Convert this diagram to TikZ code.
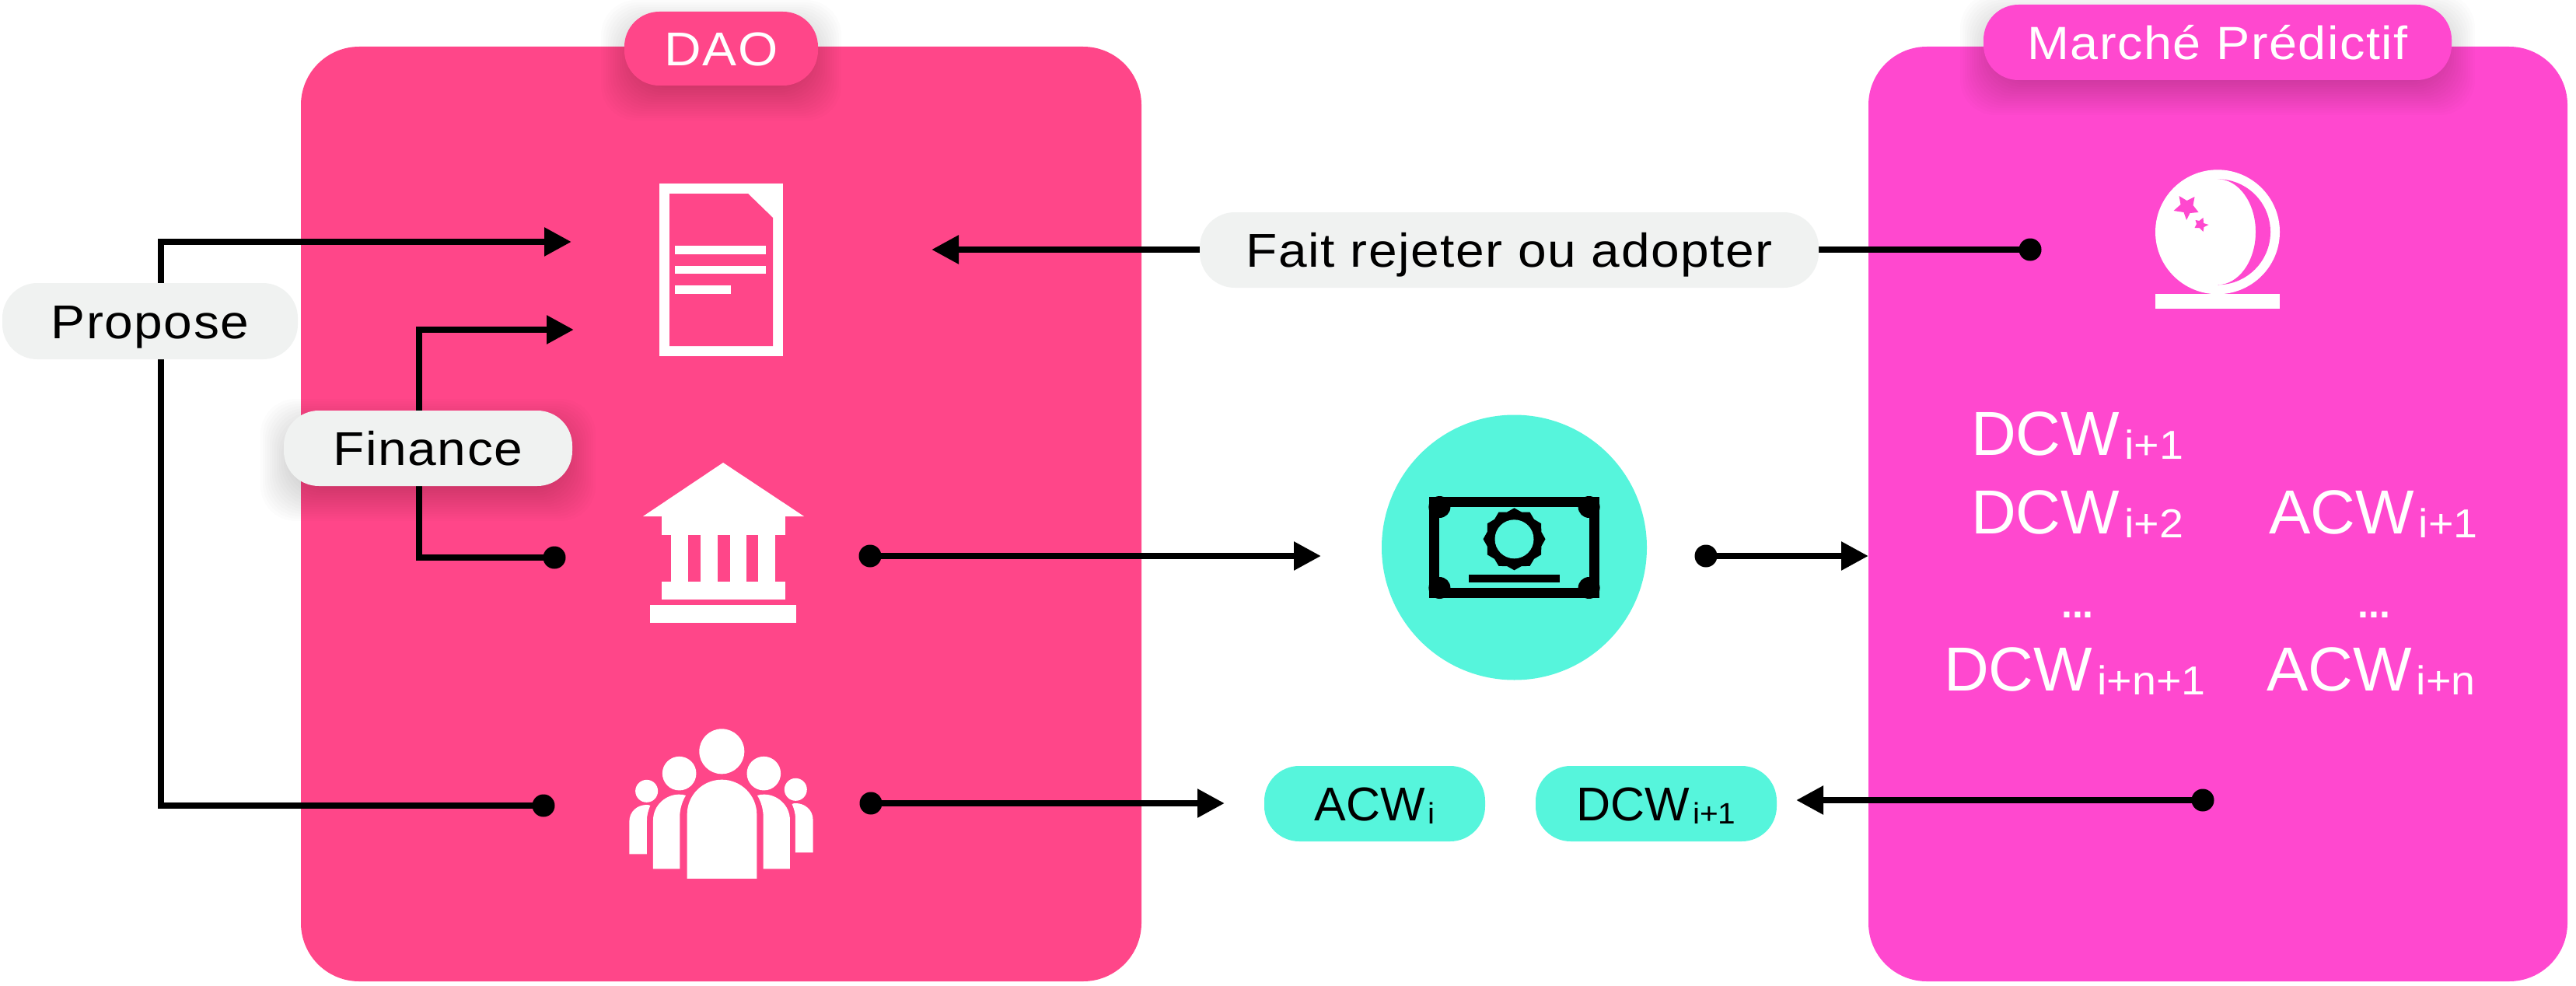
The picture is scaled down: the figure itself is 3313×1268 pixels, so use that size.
\documentclass[tikz,border=0pt]{standalone}
\usepackage{fontspec}
\setmainfont{Liberation Sans}
\newfontfamily\lblfont[FakeStretch=1.08,LetterSpace=2.5]{Liberation Sans}
\newfontfamily\subfont[FakeStretch=1.07]{Liberation Sans}
\usetikzlibrary{arrows.meta}
\definecolor{daopink}{HTML}{FF4689}
\definecolor{mktpink}{HTML}{FF48CF}
\definecolor{teal1}{HTML}{56F5DC}
\definecolor{pillgrey}{HTML}{F0F2F1}
\newcommand{\cwlabel}[4]{#1\kern #4pt\raisebox{-.065em}{\subfont\fontsize{#3}{#3}\selectfont #2}}
\newcommand{\bigcw}[2]{\fontsize{80}{90}\selectfont\cwlabel{#1}{#2}{52}{6}}
\newcommand{\smallcw}[2]{\fontsize{61}{70}\selectfont\cwlabel{#1}{#2}{38}{4}}
\newcommand{\softshadow}[4]{%
  \foreach \d in {30,27,...,-15}{%
    \fill[black,opacity=.011,rounded corners=45pt] ({#1-\d},{#2-\d+15}) rectangle ({#3+\d},{#4+\d+15});
  }}
\tikzset{
  panel/.style={rectangle,rounded corners=75pt,inner sep=0pt},
  pill/.style={rectangle,rounded corners=45pt,inner sep=0pt,text height=44pt,text depth=0pt,align=center},
  lbl/.style={pill,fill=pillgrey,text=black,font=\lblfont\fontsize{61}{70}\selectfont},
  tealpill/.style={pill,fill=teal1,text=black},
  dotnode/.style={circle,fill=black,inner sep=0pt,minimum size=29pt},
  conn/.style={line width=8.5pt,draw=black,line join=miter},
  arr/.style={conn,-{Triangle[length=35pt,width=35pt]}},
  bigtxt/.style={anchor=base west,inner sep=0pt,text=white},
}
\begin{document}
\begin{tikzpicture}[x=1pt,y=-1pt]
\useasboundingbox (0,0) rectangle (3313,1268);
\fill[white] (0,0) rectangle (3313,1268);

% panels
\node[panel,fill=daopink,minimum width=1081pt,minimum height=1202pt] (dao) at (927.5,661) {};
\node[panel,fill=mktpink,minimum width=899pt,minimum height=1202pt] (mkt) at (2852.5,661) {};

% money circle
\node[circle,fill=teal1,inner sep=0pt,minimum size=341pt] (money) at (1947.5,704) {};

% anchors
\coordinate (docA) at (735,311);
\coordinate (docB) at (738,424);
\coordinate (docC) at (1198,321);
\coordinate (moneyIn) at (1699,715);
\coordinate (mktIn) at (2403,715);
\coordinate (acwIn) at (1575,1033);
\coordinate (dcwIn) at (2310,1029);
\coordinate (pa) at (207,1036);
\coordinate (pb) at (207,311);
\coordinate (fa) at (539,717);
\coordinate (fb) at (539,424);

% dots
\node[dotnode] (dPropose) at (699,1036) {};
\node[dotnode] (dFinance) at (713,717) {};
\node[dotnode] (dBank) at (1119,715) {};
\node[dotnode] (dMoney) at (2194,715) {};
\node[dotnode] (dPeople) at (1120,1033) {};
\node[dotnode] (dBall) at (2611,321) {};
\node[dotnode] (dMkt) at (2833,1029) {};

% connectors
\draw[arr] (dPropose.center) -- (pa) -- (pb) -- (docA);
\draw[arr] (dFinance.center) -- (fa) -- (fb) -- (docB);
\draw[arr] (dBall.center) -- (docC);
\draw[arr] (dBank.center) -- (moneyIn);
\draw[arr] (dMoney.center) -- (mktIn);
\draw[arr] (dPeople.center) -- (acwIn);
\draw[arr] (dMkt.center) -- (dcwIn);

% pills
\softshadow{803}{15}{1052}{110}
\softshadow{2551}{6}{3153}{103}
\softshadow{365}{528}{736}{625}
\node[pill,fill=daopink,text=white,font=\lblfont\fontsize{61}{70}\selectfont,minimum width=249pt,minimum height=95pt] (daoLabel) at (927.5,62.5) {DAO};
\node[pill,fill=mktpink,text=white,font=\lblfont\fontsize{60}{70}\selectfont,minimum width=602pt,minimum height=97pt] (mktLabel) at (2852,54.5) {Marché Prédictif};
\node[lbl,minimum width=380pt,minimum height=98pt] (propose) at (193,413) {Propose};
\node[lbl,minimum width=371pt,minimum height=97pt] (finance) at (550.5,576.5) {Finance};
\node[lbl,minimum width=796pt,minimum height=97pt] (fait) at (1941,321.5) {Fait rejeter ou adopter};
\node[tealpill,minimum width=284pt,minimum height=97pt] (acw) at (1768,1033.5) {\smallcw{ACW}{i}};
\node[tealpill,minimum width=310pt,minimum height=97pt] (dcw) at (2130,1033.5) {\smallcw{DCW}{i+1}};

% market texts
\node[bigtxt] (t1) at (2535,585) {\bigcw{DCW}{i+1}};
\node[bigtxt] (t2) at (2535,686) {\bigcw{DCW}{i+2}};
\node[bigtxt] (t3) at (2918,686) {\bigcw{ACW}{i+1}};
\node[bigtxt] (t4) at (2500,888) {\bigcw{DCW}{i+n+1}};
\node[bigtxt] (t5) at (2915,888) {\bigcw{ACW}{i+n}};
\node[anchor=base,inner sep=0pt,text=white,font=\bfseries\fontsize{50}{60}\selectfont] (e1) at (2672,794) {...};
\node[anchor=base,inner sep=0pt,text=white,font=\bfseries\fontsize{50}{60}\selectfont] (e2) at (3053,794) {...};

% document icon
\fill[white] (848,236) rectangle (1007,458);
\fill[daopink] (861,249) -- (962,249) -- (994,280) -- (994,445) -- (861,445) -- cycle;
\fill[white] (868,316) rectangle (985,327);
\fill[white] (868,342) rectangle (985,352);
\fill[white] (868,367) rectangle (940,378);

% bank icon
\fill[white] (930,595) -- (1034,664) -- (827,664) -- cycle;
\fill[white] (851,664) rectangle (1010,688);
\fill[white] (863,688) rectangle (884.5,748);
\fill[white] (900.5,688) rectangle (923,748);
\fill[white] (939,688) rectangle (959.5,748);
\fill[white] (975,688) rectangle (997,748);
\fill[white] (851,748) rectangle (1010,771);
\fill[white] (835.5,778) rectangle (1024,801);

% people icon
\begin{scope}[shift={(700,880)},x=0.3333pt,y=-0.3333pt]
\fill[white] (685,259) circle (29pt);
\fill[white] (521,344) circle (21.8pt);
\fill[white] (847,344) circle (21.8pt);
\fill[white] (395,412) circle (14.5pt);
\fill[white] (970,406) circle (14.5pt);
\fill[white] (551,750) -- (551,502) .. controls (551,428) and (611,368) .. (685,368) .. controls (759,368) and (820,428) .. (820,502) -- (820,750) -- cycle;
\fill[white] (420,712) -- (420,525) .. controls (420,465) and (470,425) .. (520,425) .. controls (530,425) and (538,426) .. (546,429) .. controls (530,455) and (523,485) .. (523,510) -- (523,712) -- cycle;
\fill[white] (948,712) -- (948,525) .. controls (948,465) and (898,425) .. (848,425) .. controls (838,425) and (830,426) .. (822,429) .. controls (838,455) and (845,485) .. (845,510) -- (845,712) -- cycle;
\fill[white] (328,655) -- (328,530) .. controls (328,490) and (360,465) .. (395,465) .. controls (400,465) and (405,466) .. (409,468) .. controls (400,490) and (396,505) .. (396,525) -- (396,655) -- cycle;
\fill[white] (1037,649) -- (1037,524) .. controls (1037,484) and (1005,459) .. (970,459) .. controls (965,459) and (960,460) .. (956,462) .. controls (965,484) and (969,499) .. (969,519) -- (969,649) -- cycle;
\end{scope}

% money icon
\fill[black] (1838,638.7) rectangle (2057,769.3);
\fill[teal1] (1851.4,652) rectangle (2043.6,756);
\fill[black] (1851.4,652) circle (14pt);
\fill[black] (2043.6,652) circle (14pt);
\fill[black] (1851.4,756) circle (14pt);
\fill[black] (2043.6,756) circle (14pt);
\fill[black] (1987.5,693.3) \foreach \a in {15,45,...,345}{ -- ({1947.5+36*cos(\a)},{693.3+36*sin(\a)}) -- ({1947.5+40*cos(\a+15)},{693.3+40*sin(\a+15)}) } -- cycle;
\fill[teal1] (1947.5,693.3) circle (25pt);
\fill[black] (1889,738.7) rectangle (2006,749.3);

% crystal ball icon
\begin{scope}[shift={(-4.5,0)}]
\fill[white] (2856.5,298.3) circle (80pt);
\fill[mktpink] (2856.5,230.3) .. controls (2894.1,230.3) and (2924.5,260.7) .. (2924.5,298.3) .. controls (2924.5,335.9) and (2894.1,366.3) .. (2856.5,366.3) .. controls (2883.6,366.3) and (2905.5,335.9) .. (2905.5,298.3) .. controls (2905.5,260.7) and (2883.6,230.3) .. (2856.5,230.3) -- cycle;
\fill[white] (2776.5,378) rectangle (2936.5,397);
\fill[mktpink] (2807,252) -- (2817,258) -- (2827,253) -- (2825,264) -- (2832,273) -- (2821,274) -- (2816.5,283) -- (2813,273) -- (2800,271) -- (2809,263) -- cycle;
\fill[mktpink] (2838,280) -- (2838.5,287) -- (2845,289) -- (2839,292) -- (2838,298) -- (2833,293) -- (2827,293) -- (2829.5,288) -- (2828,283) -- (2833,284) -- cycle;
\end{scope}
\end{tikzpicture}
\end{document}
